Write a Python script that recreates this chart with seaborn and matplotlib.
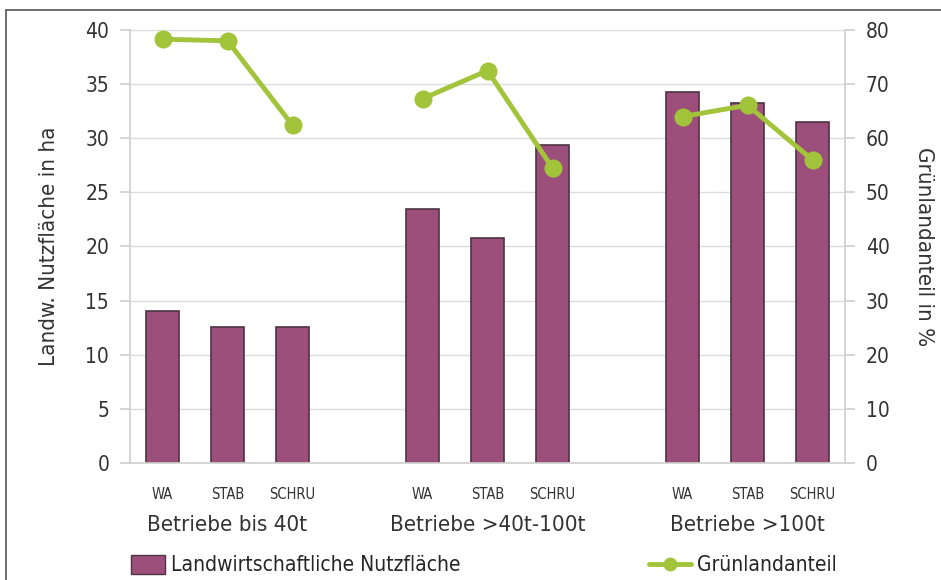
import numpy as np
import pandas as pd
import seaborn as sns
import matplotlib.pyplot as plt
from matplotlib.patches import Rectangle, Patch
from matplotlib.lines import Line2D

# Data
gruppen = ["Betriebe bis 40t", "Betriebe >40t-100t", "Betriebe >100t"]
verfahren = ["WA", "STAB", "SCHRU"]
nutzflaeche = [14.0, 12.6, 12.6,
               23.5, 20.8, 29.4,
               34.3, 33.3, 31.5]
gruenland = [78.3, 78.0, 62.4,
             67.3, 72.5, 54.5,
             64.0, 66.1, 56.0]

bar_color = "#9C4F7A"
line_color = "#A2C43A"
text_color = "#333333"

# slot positions with one empty slot between groups
pos = [g * 4 + i for g in range(len(gruppen)) for i in range(len(verfahren))]
df = pd.DataFrame({
    "pos": pos,
    "gruppe": [g for g in gruppen for _ in verfahren],
    "verfahren": verfahren * len(gruppen),
    "nutzflaeche": nutzflaeche,
    "gruenland": gruenland,
})

sns.set_theme(style="white")
plt.rcParams["font.family"] = ["DejaVu Sans"]
plt.rcParams["font.stretch"] = "condensed"

fig = plt.figure(figsize=(9.41, 5.80), dpi=100)
ax = fig.add_axes([130 / 941, 1 - 463 / 580, 715 / 941, 433 / 580])

sns.barplot(data=df, x="pos", y="nutzflaeche", native_scale=True, width=0.5,
            color=bar_color, edgecolor="#4d3344", linewidth=1.2, saturation=1,
            ax=ax)
ax.set_xlim(-0.5, 10.5)
ax.set_ylim(0, 40)
ax.set_yticks(np.arange(0, 41, 5))
ax.yaxis.grid(True, color="#dcdcdc", linewidth=1)
ax.set_axisbelow(True)
ax.set_xticks(df["pos"])
ax.set_xticklabels(df["verfahren"], fontsize=10.5, color=text_color)
ax.tick_params(axis="x", length=0, pad=17)
ax.tick_params(axis="y", labelsize=15, colors=text_color, length=7, color="#d0d0d0", pad=8)
# minor ticks at category boundaries
ax.set_xticks(np.arange(-0.5, 11, 1), minor=True)
ax.tick_params(axis="x", which="minor", length=6, color="#d0d0d0")
for s in ["top", "right"]:
    ax.spines[s].set_visible(False)
for s in ["left", "bottom"]:
    ax.spines[s].set_color("#d0d0d0")
ax.set_xlabel("")
ax.set_ylabel("Landw. Nutzfläche in ha", fontsize=16, color=text_color, labelpad=19)

ax2 = ax.twinx()
sns.lineplot(data=df, x="pos", y="gruenland", units="gruppe", estimator=None,
             color=line_color, linewidth=3.5, marker="o", markersize=13,
             markeredgewidth=0, ax=ax2, legend=False)
ax2.set_ylim(0, 80)
ax2.set_yticks(np.arange(0, 81, 10))
ax2.tick_params(axis="y", labelsize=15, colors=text_color, length=7, color="#d0d0d0", pad=8)
for s in ["top", "left", "bottom"]:
    ax2.spines[s].set_visible(False)
ax2.spines["right"].set_color("#d0d0d0")
ax2.set_ylabel("Grünlandanteil in %", fontsize=16, color=text_color,
               rotation=270, labelpad=32)
ax2.set_xlabel("")

# group labels
for g, name in enumerate(gruppen):
    ax.text(g * 4 + 1, -0.143, name, transform=ax.get_xaxis_transform(),
            ha="center", va="center", fontsize=16, color=text_color)

# legends (one on each axes)
ax.legend(handles=[Patch(facecolor=bar_color, edgecolor="#4d3344")],
          labels=["Landwirtschaftliche Nutzfläche"], loc="center left",
          bbox_to_anchor=(-0.01, -0.236), frameon=False, fontsize=15,
          handlelength=1.6, handleheight=1.0, handletextpad=0.3,
          borderaxespad=0)
ax2.legend(handles=[Line2D([], [], color=line_color, linewidth=3.5, marker="o",
                           markersize=10, markeredgewidth=0)],
           labels=["Grünlandanteil"], loc="center right",
           bbox_to_anchor=(1.0, -0.236), frameon=False, fontsize=15,
           handlelength=2.0, handletextpad=0.3, borderaxespad=0)

# outer frame
fig.patches.append(Rectangle((6 / 941, -0.02), 1.0, 1 - 10 / 580 + 0.02,
                             transform=fig.transFigure, fill=False,
                             edgecolor="#555555", linewidth=1.2))

fig.savefig("out.png", dpi=100)
